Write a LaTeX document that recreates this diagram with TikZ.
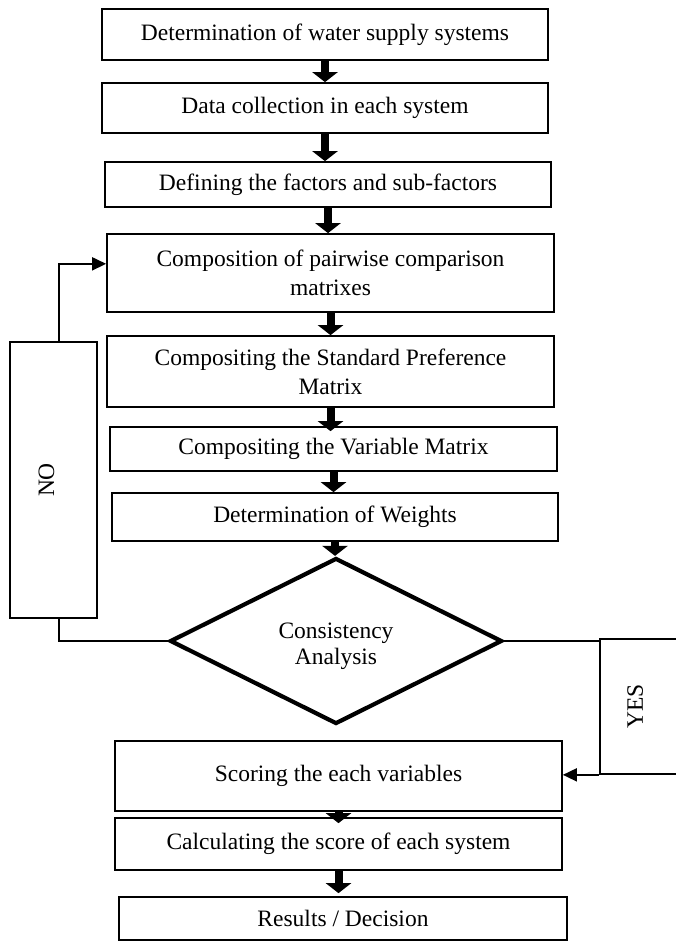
\documentclass[tikz,border=0pt]{standalone}
\usepackage{fontspec}
\setmainfont{Liberation Serif}
\usetikzlibrary{arrows.meta,shapes.geometric,calc}
\begin{document}
\begin{tikzpicture}[x=1pt,y=-1pt,
  every node/.style={font=\fontsize{23.5}{29}\selectfont},
  box/.style={draw, line width=1.7pt, rectangle, inner sep=0pt, align=center},
  blk/.style={draw, line width=8pt, -{Triangle[width=25pt,length=10pt]}},
  thinline/.style={draw, line width=1.7pt},
  thinarrow/.style={draw, line width=1.7pt, -{Triangle[width=13pt,length=14pt]}}]
\useasboundingbox (0,0) rectangle (676,942);
\node[box, minimum width=446pt, minimum height=51pt] (b1) at (325,34.5) {Determination of water supply systems};
\node[box, minimum width=446pt, minimum height=50pt] (b2) at (325,108) {Data collection in each system};
\node[box, minimum width=446pt, minimum height=45pt] (b3) at (328,184.5) {Defining the factors and sub-factors};
\node[box, minimum width=447pt, minimum height=78pt] (b4) at (330.5,273) {Composition of pairwise comparison\\matrixes};
\node[box, minimum width=447pt, minimum height=71pt] (b5) at (330.5,371.5) {Compositing the Standard Preference\\Matrix};
\node[box, minimum width=447pt, minimum height=44pt] (b6) at (333.5,449) {Compositing the Variable Matrix};
\node[box, minimum width=446pt, minimum height=48pt] (b7) at (335,517) {Determination of Weights};
\node[draw, diamond, aspect=2, line width=4.2pt, minimum width=332pt, minimum height=166pt, inner sep=0pt, align=center, text height=52pt, text depth=5pt, font=\fontsize{23.5}{26}\selectfont] (dia) at (336,641) {Consistency\\Analysis};
\node[box, minimum width=447pt, minimum height=70pt] (b8) at (338.5,776) {Scoring the each variables};
\node[box, minimum width=447pt, minimum height=52pt] (b9) at (338.5,844) {Calculating the score of each system};
\node[box, minimum width=448pt, minimum height=43pt] (b10) at (343,918.5) {Results / Decision};
\node[box, minimum width=87pt, minimum height=276pt] (no) at (53.5,480) {};
\node[rotate=90] (nolbl) at ($(no.center)+(-7,0)$) {NO};
\node[box, minimum width=90pt, minimum height=135pt] (yes) at (645,706.5) {};
\node[rotate=90] (yeslbl) at ($(yes.west)+(36,0)$) {YES};
\draw[blk] (b1.south) -- (b1.south |- b2.north);
\draw[blk] (b2.south) -- (b2.south |- b3.north);
\draw[blk] (b3.south) -- (b3.south |- b4.north);
\draw[blk] (b4.south) -- (b4.south |- b5.north);
\draw[blk, shorten >=-5pt] (b5.south) -- (b5.south |- b6.north);
\draw[blk] (b6.south) -- (b6.south |- b7.north);
\draw[blk] (b7.south) -- (b7.south |- dia.north);
\draw[blk, shorten >=-6pt] (b8.south) -- (b8.south |- b9.north);
\draw[blk, shorten >=3pt] (b9.south) -- (b9.south |- b10.north);
\draw[thinarrow] ($(no.north)+(5.5,0)$) |- ($(b4.north west)!0.385!(b4.south west)$);
\draw[thinline] ($(no.south)+(5.5,0)$) |- (dia.west);
\draw[thinline] (dia.east) -- (dia.east -| yes.west);
\draw[thinarrow] (yes.south west) -- (yes.south west -| b8.east);
\end{tikzpicture}
\end{document}
